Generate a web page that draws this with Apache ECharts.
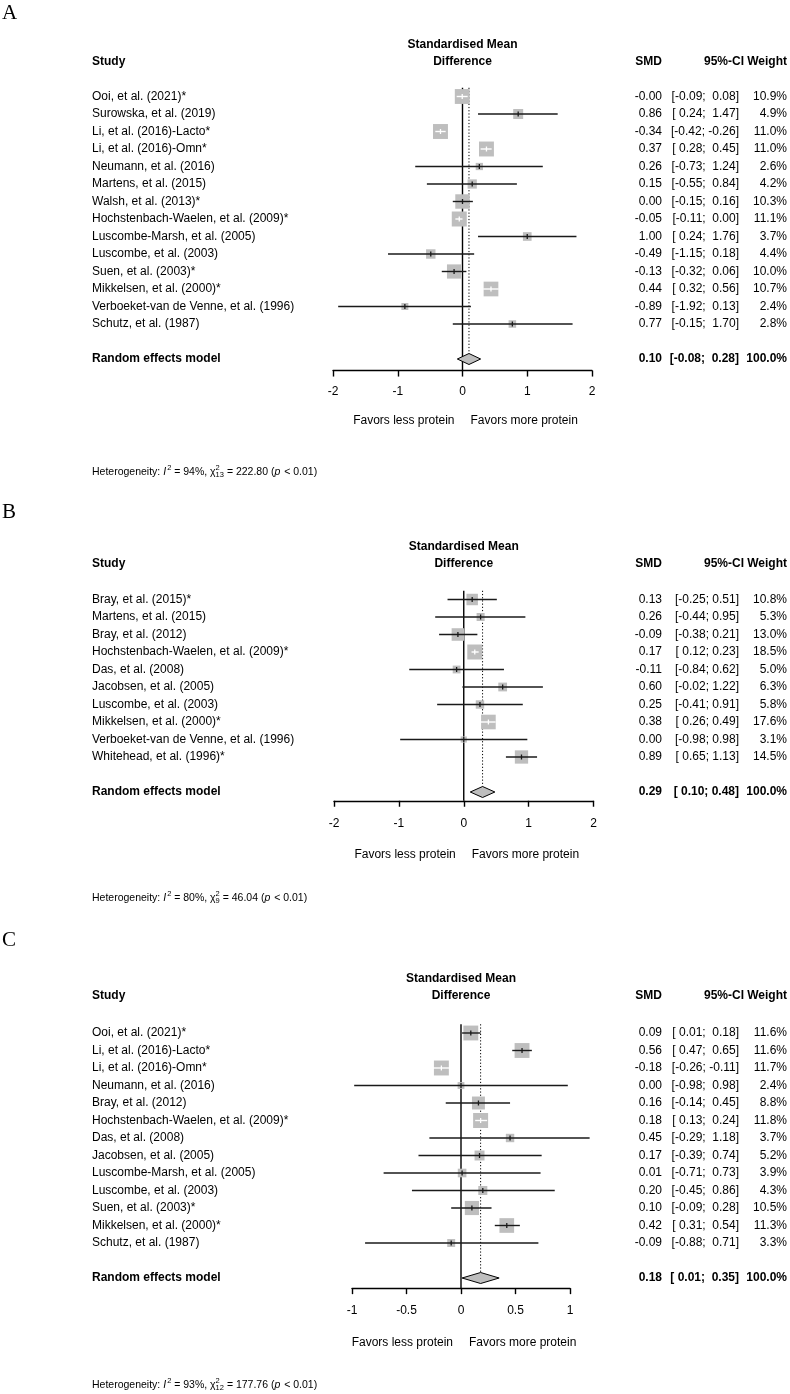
<!DOCTYPE html>
<html>
<head>
<meta charset="utf-8">
<script src="https://cdn.jsdelivr.net/npm/echarts@6/dist/echarts.min.js"></script>
<style>
html, body { margin: 0; padding: 0; background: #fff; }
#chart { width: 790px; height: 1394px; }
</style>
</head>
<body>
<div id="chart"></div>
<script>
// ---- data: panel A ----
var studiesA = ['Ooi, et al. (2021)*', 'Surowska, et al. (2019)', 'Li, et al. (2016)-Lacto*', 'Li, et al. (2016)-Omn*',
    'Neumann, et al. (2016)', 'Martens, et al. (2015)', 'Walsh, et al. (2013)*', 'Hochstenbach-Waelen, et al. (2009)*',
    'Luscombe-Marsh, et al. (2005)', 'Luscombe, et al. (2003)', 'Suen, et al. (2003)*', 'Mikkelsen, et al. (2000)*',
    'Verboeket-van de Venne, et al. (1996)', 'Schutz, et al. (1987)'];
var smdA = [-0.004, 0.86, -0.34, 0.37, 0.26, 0.15, 0.00, -0.05, 1.00, -0.49, -0.13, 0.44, -0.89, 0.77];
var lowerA = [-0.09, 0.24, -0.42, 0.28, -0.73, -0.55, -0.15, -0.11, 0.24, -1.15, -0.32, 0.32, -1.92, -0.15];
var upperA = [0.08, 1.47, -0.26, 0.45, 1.24, 0.84, 0.16, 0.00, 1.76, 0.18, 0.06, 0.56, 0.13, 1.70];
var weightA = [10.9, 4.9, 11.0, 11.0, 2.6, 4.2, 10.3, 11.1, 3.7, 4.4, 10.0, 10.7, 2.4, 2.8];
var pooledA = [0.10, -0.08, 0.28];
var ticksA = [-2, -1, 0, 1, 2];

// ---- data: panel B ----
var studiesB = ['Bray, et al. (2015)*', 'Martens, et al. (2015)', 'Bray, et al. (2012)', 'Hochstenbach-Waelen, et al. (2009)*',
    'Das, et al. (2008)', 'Jacobsen, et al. (2005)', 'Luscombe, et al. (2003)', 'Mikkelsen, et al. (2000)*',
    'Verboeket-van de Venne, et al. (1996)', 'Whitehead, et al. (1996)*'];
var smdB = [0.13, 0.26, -0.09, 0.17, -0.11, 0.60, 0.25, 0.38, 0.00, 0.89];
var lowerB = [-0.25, -0.44, -0.38, 0.12, -0.84, -0.02, -0.41, 0.26, -0.98, 0.65];
var upperB = [0.51, 0.95, 0.21, 0.23, 0.62, 1.22, 0.91, 0.49, 0.98, 1.13];
var weightB = [10.8, 5.3, 13.0, 18.5, 5.0, 6.3, 5.8, 17.6, 3.1, 14.5];
var pooledB = [0.29, 0.10, 0.48];
var ticksB = [-2, -1, 0, 1, 2];

// ---- data: panel C ----
var studiesC = ['Ooi, et al. (2021)*', 'Li, et al. (2016)-Lacto*', 'Li, et al. (2016)-Omn*', 'Neumann, et al. (2016)',
    'Bray, et al. (2012)', 'Hochstenbach-Waelen, et al. (2009)*', 'Das, et al. (2008)', 'Jacobsen, et al. (2005)',
    'Luscombe-Marsh, et al. (2005)', 'Luscombe, et al. (2003)', 'Suen, et al. (2003)*', 'Mikkelsen, et al. (2000)*',
    'Schutz, et al. (1987)'];
var smdC = [0.09, 0.56, -0.18, 0.00, 0.16, 0.18, 0.45, 0.17, 0.01, 0.20, 0.10, 0.42, -0.09];
var lowerC = [0.01, 0.47, -0.26, -0.98, -0.14, 0.13, -0.29, -0.39, -0.71, -0.45, -0.09, 0.31, -0.88];
var upperC = [0.18, 0.65, -0.11, 0.98, 0.45, 0.24, 1.18, 0.74, 0.73, 0.86, 0.28, 0.54, 0.71];
var weightC = [11.6, 11.6, 11.7, 2.4, 8.8, 11.8, 3.7, 5.2, 3.9, 4.3, 10.5, 11.3, 3.3];
var pooledC = [0.18, 0.01, 0.35];
var ticksC = [-1, -0.5, 0, 0.5, 1];

// heterogeneity (A, B, C)
var hetI2 = [94, 80, 93];
var hetQ = [222.80, 46.04, 177.76];
var hetDf = [13, 9, 12];
var hetP = ['< 0.01', '< 0.01', '< 0.01'];

var panelLetters = ['A', 'B', 'C'];
var labelLeft = 'Favors less protein';
var labelRight = 'Favors more protein';

var SANS = '"Liberation Sans", Arial, Helvetica, sans-serif';
var SERIF = '"Liberation Serif", "Times New Roman", serif';
var ROW_H = 17.5;

// layout of each panel (pixels)
var layout = [
    { letterY: 13, headY: 62, rowTop: 96.5, axisOff: 0.66, left: 333, right: 592, tickMargin: 15, favY: 421, hetY: 472 },
    { letterY: 512, headY: 564, rowTop: 599.5, axisOff: 0.5, left: 334, right: 593.5, tickMargin: 17, favY: 855, hetY: 898 },
    { letterY: 940, headY: 996, rowTop: 1033, axisOff: 0.58, left: 352, right: 570, tickMargin: 17, favY: 1343, hetY: 1385 }
];
var colX = { study: 92, smd: 662, ci: 739, ciHead: 744, weight: 787 };

var panels = [
    { studies: studiesA, smd: smdA, lower: lowerA, upper: upperA, weight: weightA, pooled: pooledA, ticks: ticksA },
    { studies: studiesB, smd: smdB, lower: lowerB, upper: upperB, weight: weightB, pooled: pooledB, ticks: ticksB },
    { studies: studiesC, smd: smdC, lower: lowerC, upper: upperC, weight: weightC, pooled: pooledC, ticks: ticksC }
];

var measureCtx = document.createElement('canvas').getContext('2d');
function textW(s, font) {
    measureCtx.font = font;
    return measureCtx.measureText(s).width;
}

function padLeft(s, n) {
    while (s.length < n) s = ' ' + s;
    return s;
}

function fmt(v) {
    return v.toFixed(2);
}

function textEl(x, y, s, font, align) {
    return {
        type: 'text', x: x, y: y, silent: true,
        style: {
            text: s, font: font, fill: '#000',
            textAlign: align, align: align,
            textVerticalAlign: 'middle', verticalAlign: 'middle'
        }
    };
}

var grids = [], xAxes = [], yAxes = [], series = [], graphics = [];

panels.forEach(function (p, k) {
    var L = layout[k];
    var n = p.studies.length;
    var pooledRow = n + 2;
    var yMax = pooledRow + L.axisOff;
    var gridTop = L.rowTop - 0.5 * ROW_H;
    var maxW = Math.max.apply(null, p.weight);

    grids.push({
        left: L.left, width: L.right - L.left, top: gridTop, height: (yMax - 0.5) * ROW_H,
        containLabel: false, outerBoundsMode: 'none'
    });
    xAxes.push({
        gridIndex: k, type: 'value', position: 'bottom',
        min: p.ticks[0], max: p.ticks[p.ticks.length - 1], interval: p.ticks[1] - p.ticks[0],
        axisLine: { show: true, onZero: false, lineStyle: { color: '#000', width: 1.4 } },
        axisTick: { show: true, inside: false, length: 6, lineStyle: { color: '#000', width: 1.4 } },
        axisLabel: { color: '#000', fontSize: 12, fontFamily: SANS, margin: L.tickMargin },
        splitLine: { show: false }
    });
    yAxes.push({ gridIndex: k, type: 'value', inverse: true, min: 0.5, max: yMax, show: false });

    // CI text, padded as in the original table
    var allLo = p.lower.concat([p.pooled[1]]).map(fmt);
    var allUp = p.upper.concat([p.pooled[2]]).map(fmt);
    var wLo = Math.max.apply(null, allLo.map(function (s) { return s.length; }));
    var wUp = Math.max.apply(null, allUp.map(function (s) { return s.length; }));
    var table = [];
    p.studies.forEach(function (name, i) {
        table.push({
            label: name, smd: fmt(p.smd[i]),
            ci: '[' + padLeft(allLo[i], wLo) + '; ' + padLeft(allUp[i], wUp) + ']',
            w: p.weight[i].toFixed(1) + '%', bold: false
        });
    });
    table.push({
        label: 'Random effects model', smd: fmt(p.pooled[0]),
        ci: '[' + padLeft(allLo[n], wLo) + '; ' + padLeft(allUp[n], wUp) + ']',
        w: '100.0%', bold: true
    });
    var tableRows = table.map(function (t, i) { return [0, i < n ? i + 1 : pooledRow]; });

    // reference lines + pooled diamond
    series.push({
        type: 'custom', xAxisIndex: k, yAxisIndex: k, clip: false, silent: true,
        encode: { x: 0, y: 1 },
        data: [[p.pooled[0], pooledRow, p.pooled[1], p.pooled[2]]],
        renderItem: function (params, api) {
            var row = api.value(1);
            var c = api.coord([api.value(0), row]);
            var l = api.coord([api.value(2), row]);
            var r = api.coord([api.value(3), row]);
            var h = 5.5;
            var zt = api.coord([0, 0.5]);
            var zb = api.coord([0, yMax]);
            var dt = api.coord([api.value(0), 0.5]);
            return {
                type: 'group', children: [
                    { type: 'line', shape: { x1: zt[0], y1: zt[1], x2: zb[0], y2: zb[1] },
                      style: { stroke: '#000', lineWidth: 1.4 } },
                    { type: 'line', shape: { x1: dt[0], y1: dt[1], x2: c[0], y2: c[1] - h },
                      style: { stroke: '#000', lineWidth: 1, lineDash: [1.2, 2] } },
                    { type: 'polygon', shape: { points: [[l[0], c[1]], [c[0], c[1] - h], [r[0], c[1]], [c[0], c[1] + h]] },
                      style: { fill: '#bebebe', stroke: '#000', lineWidth: 1 } }
                ]
            };
        }
    });

    // studies: square, CI line, estimate tick
    series.push({
        type: 'custom', xAxisIndex: k, yAxisIndex: k, clip: false, silent: true,
        encode: { x: 0, y: 1 },
        data: p.smd.map(function (v, i) { return [v, i + 1, p.lower[i], p.upper[i], p.weight[i]]; }),
        renderItem: function (params, api) {
            var row = api.value(1);
            var c = api.coord([api.value(0), row]);
            var lo = api.coord([api.value(2), row])[0];
            var hi = api.coord([api.value(3), row])[0];
            var side = 15 * Math.sqrt(api.value(4) / maxW);
            var inside = (hi - lo) <= side * 1.15;
            var col = inside ? '#fff' : '#1a1a1a';
            return {
                type: 'group', children: [
                    { type: 'rect', shape: { x: c[0] - side / 2, y: c[1] - side / 2, width: side, height: side },
                      style: { fill: '#bebebe' } },
                    { type: 'line', shape: { x1: lo, y1: c[1], x2: hi, y2: c[1] },
                      style: { stroke: col, lineWidth: 1.4 } },
                    { type: 'line', shape: { x1: c[0], y1: c[1] - 2.5, x2: c[0], y2: c[1] + 2.5 },
                      style: { stroke: col, lineWidth: 1.3 } }
                ]
            };
        }
    });

    // table text
    series.push({
        type: 'custom', xAxisIndex: k, yAxisIndex: k, clip: false, silent: true,
        encode: { x: 0, y: 1 },
        data: tableRows,
        renderItem: function (params, api) {
            var t = table[params.dataIndex];
            var y = api.coord([0, api.value(1)])[1];
            var font = (t.bold ? 'bold ' : '') + '12px ' + SANS;
            return {
                type: 'group', children: [
                    textEl(colX.study, y, t.label, font, 'left'),
                    textEl(colX.smd, y, t.smd, font, 'right'),
                    textEl(colX.ci, y, t.ci, font, 'right'),
                    textEl(colX.weight, y, t.w, font, 'right')
                ]
            };
        }
    });

    // headers and notes
    var bold = 'bold 12px ' + SANS;
    var mid = (L.left + L.right) / 2;
    var zeroX = L.left + (0 - p.ticks[0]) / (p.ticks[p.ticks.length - 1] - p.ticks[0]) * (L.right - L.left);
    graphics.push(textEl(2, L.letterY, panelLetters[k], '21px ' + SERIF, 'left'));
    graphics.push(textEl(mid, L.headY - 17, 'Standardised Mean', bold, 'center'));
    graphics.push(textEl(mid, L.headY, 'Difference', bold, 'center'));
    graphics.push(textEl(colX.study, L.headY, 'Study', bold, 'left'));
    graphics.push(textEl(colX.smd, L.headY, 'SMD', bold, 'right'));
    graphics.push(textEl(colX.ciHead, L.headY, '95%-CI', bold, 'right'));
    graphics.push(textEl(colX.weight, L.headY, 'Weight', bold, 'right'));
    graphics.push(textEl(zeroX - 8, L.favY, labelLeft, '12px ' + SANS, 'right'));
    graphics.push(textEl(zeroX + 8, L.favY, labelRight, '12px ' + SANS, 'left'));

    // heterogeneity line with italic I, p and stacked chi-square scripts
    var base = '10.5px ' + SANS, ital = 'italic 10.5px ' + SANS, small = '7.5px ' + SANS;
    var cx = colX.study, hy = L.hetY;
    function put(s, font, dy) {
        graphics.push(textEl(cx, hy + dy, s, font, 'left'));
        return textW(s, font);
    }
    cx += put('Heterogeneity: ', base, 0);
    cx += put('I', ital, 0) + 1;
    cx += put('2', small, -4);
    cx += put(' = ' + hetI2[k] + '%, ', base, 0);
    cx += put('\u03C7', base, 0);
    var w1 = put('2', small, -4);
    var w2 = put(String(hetDf[k]), small, 3);
    cx += Math.max(w1, w2);
    cx += put(' = ' + hetQ[k].toFixed(2) + ' (', base, 0);
    cx += put('p', ital, 0) + 1;
    put(' ' + hetP[k] + ')', base, 0);
});

var chart = echarts.init(document.getElementById('chart'));
chart.setOption({
    animation: false,
    backgroundColor: '#fff',
    grid: grids,
    xAxis: xAxes,
    yAxis: yAxes,
    series: series,
    graphic: { elements: graphics }
});
</script>
</body>
</html>
